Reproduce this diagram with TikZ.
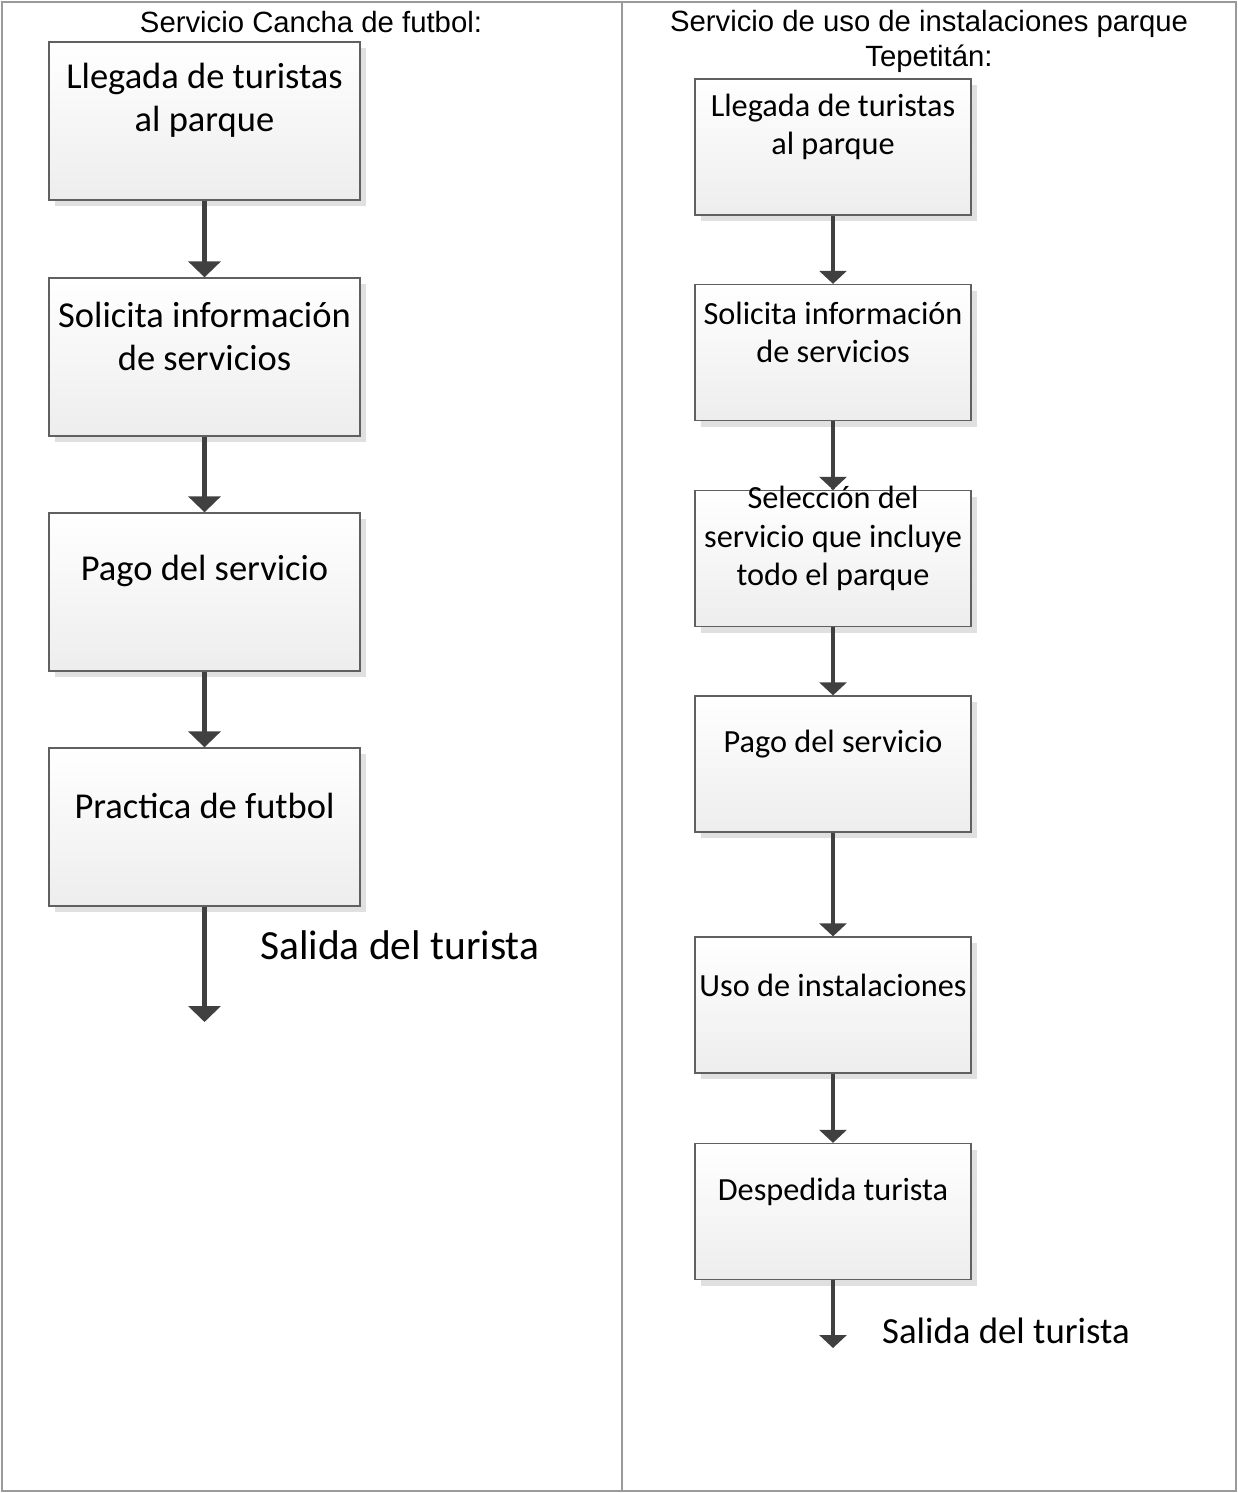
\documentclass[tikz,border=0pt]{standalone}
\usepackage{fontspec}
\setmainfont{Carlito}
\newfontfamily\hdrfont{Liberation Sans}
\usetikzlibrary{arrows.meta,shadows}
\definecolor{framegray}{HTML}{9A9A9A}
\definecolor{boxline}{HTML}{606060}
\definecolor{shadowgray}{HTML}{E0E0E0}
\definecolor{arrowgray}{HTML}{404040}
\begin{document}
\begin{tikzpicture}[x=1pt,y=-1pt,
  stepbox/.style={draw=boxline,line width=1.3pt,top color=white,bottom color=black!7,
    general shadow={fill=shadowgray,shadow xshift=6pt,shadow yshift=-6pt},inner sep=0pt},
  lbox/.style={stepbox,minimum width=311pt,minimum height=158pt},
  rbox/.style={stepbox,minimum width=276pt,minimum height=136pt},
  ltext/.style={align=center,inner sep=0pt,font=\fontsize{36.5}{43}\selectfont},
  rtext/.style={align=center,inner sep=0pt,font=\fontsize{32.3}{38.5}\selectfont},
  lexit/.style={inner sep=0pt,anchor=west,font=\fontsize{41.5}{48}\selectfont},
  rexit/.style={inner sep=0pt,anchor=west,font=\fontsize{36.8}{43}\selectfont},
  hdr/.style={align=center,inner sep=0pt,font=\hdrfont\fontsize{29.3}{35}\selectfont},
  larrow/.style={draw=arrowgray,line width=4.5pt,-{Triangle[width=32pt,length=16pt]}},
  rarrow/.style={draw=arrowgray,line width=3.5pt,-{Triangle[width=27pt,length=13pt]}},
  frame/.style={draw=framegray,line width=2pt}
]
\useasboundingbox (0,0) rectangle (1238,1493);
\draw[frame] (2,2) rectangle (1236,1491);
\draw[frame,line width=1.5pt] (622,2) -- (622,1491);

% headers
\node[hdr] (h1) at (311,22) {Servicio Cancha de futbol:};
\node[hdr] (h2) at (929,41.5) {Servicio de uso de instalaciones parque\\Tepetitán:};

% left column
\node[lbox] (l1) at (204.5,121) {};
\node[lbox] (l2) at (204.5,357) {};
\node[lbox] (l3) at (204.5,592) {};
\node[lbox] (l4) at (204.5,827) {};
\node[ltext] (lt1) at ([yshift=21pt]l1.center) {Llegada de turistas\\al parque};
\node[ltext] (lt2) at ([yshift=21pt]l2.center) {Solicita información\\de servicios};
\node[ltext] (lt3) at ([yshift=21pt]l3.center) {Pago del servicio};
\node[ltext] (lt4) at ([yshift=21pt]l4.center) {Practica de futbol};
\coordinate (lend) at (204.5,1022);
\draw[larrow] (l1.south) -- (l2.north);
\draw[larrow] (l2.south) -- (l3.north);
\draw[larrow] (l3.south) -- (l4.north);
\draw[larrow] (l4.south) -- (lend);
\node[lexit] (ls) at (260,945) {Salida del turista};

% right column
\node[rbox] (r1) at (833,147) {};
\node[rbox] (r2) at (833,352.5) {};
\node[rbox] (r3) at (833,558.5) {};
\node[rbox] (r4) at (833,764) {};
\node[rbox] (r5) at (833,1005) {};
\node[rbox] (r6) at (833,1211.5) {};
\node[rtext] (rt1) at ([yshift=20pt]r1.center) {Llegada de turistas\\al parque};
\node[rtext] (rt2) at ([yshift=20pt]r2.center) {Solicita información\\de servicios};
\node[rtext] (rt3) at ([yshift=20pt]r3.center) {Selección del\\servicio que incluye\\todo el parque};
\node[rtext] (rt4) at ([yshift=20pt]r4.center) {Pago del servicio};
\node[rtext] (rt5) at ([yshift=20pt]r5.center) {Uso de instalaciones};
\node[rtext] (rt6) at ([yshift=20pt]r6.center) {Despedida turista};
\coordinate (rend) at (833,1348);
\draw[rarrow] (r1.south) -- (r2.north);
\draw[rarrow] (r2.south) -- (r3.north);
\draw[rarrow] (r3.south) -- (r4.north);
\draw[rarrow] (r4.south) -- (r5.north);
\draw[rarrow] (r5.south) -- (r6.north);
\draw[rarrow] (r6.south) -- (rend);
\node[rexit] (rs) at (882,1331) {Salida del turista};
\end{tikzpicture}
\end{document}
